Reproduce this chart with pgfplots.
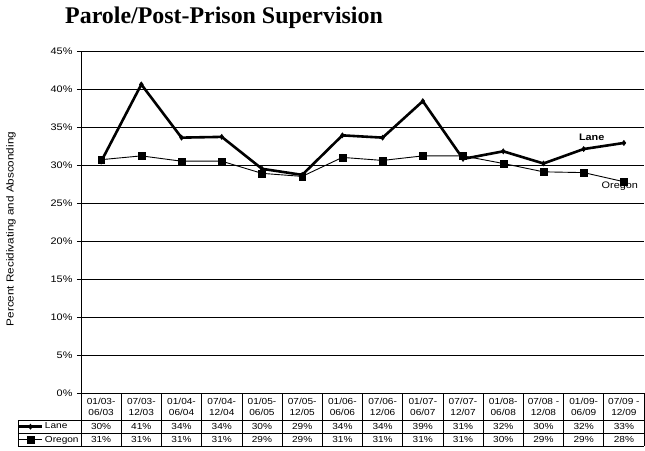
\documentclass[border=0pt]{standalone}
\usepackage{pgfplots}
\pgfplotsset{compat=1.18}
\usepackage{fontspec}
\setmainfont{Liberation Sans}[FakeStretch=1.15]
\newfontfamily\titlefont{Liberation Serif}
\newcommand\tfont{\fontsize{8.8}{10.8}\selectfont}
\newcommand\tcell[5]{%
  \node[font=\tfont, align=center, inner sep=0pt] at ([yshift=-13.5bp]axis cs:#1,0) {#2\\#3};
  \node[font=\tfont, inner sep=0pt] at ([yshift=-33.5bp]axis cs:#1,0) {#4\%};
  \node[font=\tfont, inner sep=0pt] at ([yshift=-46.5bp]axis cs:#1,0) {#5\%};
}
\begin{document}
\begin{tikzpicture}
\path[use as bounding box] (0,0) rectangle (645bp,451bp);
\node[anchor=base west, inner sep=0pt, font=\titlefont\bfseries\fontsize{24}{26}\selectfont] at (65bp,427bp) {Parole/Post-Prison Supervision};
\node[rotate=90, inner sep=0pt, font=\fontsize{10.2}{11}\selectfont] at (11bp,222bp) {Percent Recidivating and Absconding};
\begin{axis}[
  at={(81bp,58bp)}, anchor=south west,
  scale only axis, width=563bp, height=342bp,
  xmin=-0.5, xmax=13.5, ymin=0, ymax=45,
  axis x line=bottom, axis y line=left,
  axis line style={-, line width=0.8bp, black},
  xtick=\empty,
  ytick={0,5,...,45},
  yticklabel={\pgfmathprintnumber{\tick}\%},
  /pgf/number format/assume math mode=true,
  yticklabel style={font=\fontsize{9.5}{11}\selectfont, xshift=-1bp},
  tick align=outside, major tick length=4bp,
  tick style={black, line width=0.8bp},
  ymajorgrids, grid style={black, line width=0.8bp},
  clip=false,
  legend style={at={(rel axis cs:0,0)}, anchor=north east, xshift=-1bp, yshift=-27bp,
    draw=none, fill=none, inner sep=0pt, row sep=0pt,
    nodes={inner sep=1.2bp, minimum height=13bp, font=\tfont}},
  legend cell align=left,
  legend image code/.code={%
    \draw[#1, mark=none] (0bp,0bp) -- (24bp,0bp);
    \draw[#1] plot coordinates {(12bp,0bp)};},
]
\addplot[black, line width=2.6bp, mark=diamond*, mark size=2.6bp, mark options={solid, line width=0.5bp}] coordinates {
(0,30.45) (1,40.6) (2,33.6) (3,33.7) (4,29.5) (5,28.7) (6,33.9) (7,33.6) (8,38.4) (9,30.8) (10,31.8) (11,30.2) (12,32.1) (13,32.9)};
\addlegendentry{Lane}
\addplot[black, line width=0.9bp, mark=square*, mark size=3.4bp, mark options={solid, line width=0.3bp}] coordinates {
(0,30.7) (1,31.2) (2,30.5) (3,30.5) (4,28.9) (5,28.5) (6,31.0) (7,30.6) (8,31.2) (9,31.2) (10,30.2) (11,29.1) (12,29.0) (13,27.8)};
\addlegendentry{Oregon}
\node[font=\bfseries\fontsize{9.5}{11}\selectfont] at (axis cs:12.2,33.7) {Lane};
\node[font=\fontsize{9.5}{11}\selectfont] at (axis cs:12.9,27.2) {Oregon};
% table grid
\draw[line width=0.6bp] ([xshift=-63bp,yshift=-27bp]rel axis cs:0,0) -- ([yshift=-27bp]rel axis cs:1,0);
\draw[line width=0.6bp] ([xshift=-63bp,yshift=-40bp]rel axis cs:0,0) -- ([yshift=-40bp]rel axis cs:1,0);
\draw[line width=0.6bp] ([xshift=-63bp,yshift=-53bp]rel axis cs:0,0) -- ([yshift=-53bp]rel axis cs:1,0);
\draw[line width=0.6bp] ([xshift=-63bp,yshift=-27bp]rel axis cs:0,0) -- ([xshift=-63bp,yshift=-53bp]rel axis cs:0,0);
\pgfplotsinvokeforeach{0,...,14}{%
  \draw[line width=0.6bp] (rel axis cs:{#1/14},0) -- ([yshift=-53bp]rel axis cs:{#1/14},0);
}
\tcell{0}{01/03-}{06/03}{30}{31}
\tcell{1}{07/03-}{12/03}{41}{31}
\tcell{2}{01/04-}{06/04}{34}{31}
\tcell{3}{07/04-}{12/04}{34}{31}
\tcell{4}{01/05-}{06/05}{30}{29}
\tcell{5}{07/05-}{12/05}{29}{29}
\tcell{6}{01/06-}{06/06}{34}{31}
\tcell{7}{07/06-}{12/06}{34}{31}
\tcell{8}{01/07-}{06/07}{39}{31}
\tcell{9}{07/07-}{12/07}{31}{31}
\tcell{10}{01/08-}{06/08}{32}{30}
\tcell{11}{07/08 -}{12/08}{30}{29}
\tcell{12}{01/09-}{06/09}{32}{29}
\tcell{13}{07/09 -}{12/09}{33}{28}
\end{axis}
\end{tikzpicture}
\end{document}
